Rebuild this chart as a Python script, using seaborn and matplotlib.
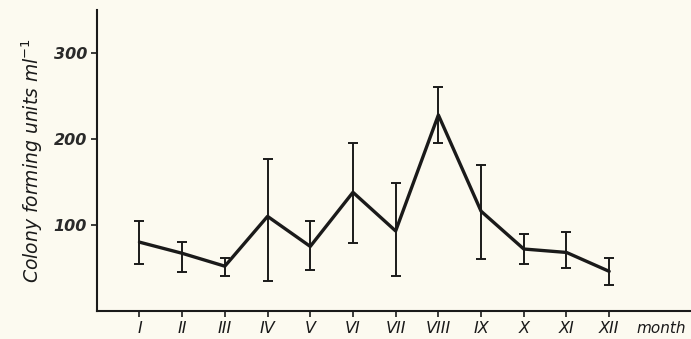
import numpy as np
import pandas as pd
import seaborn as sns
import matplotlib.pyplot as plt

# monthly colony counts
months = ["I", "II", "III", "IV", "V", "VI", "VII", "VIII", "IX", "X", "XI", "XII"]
month_no = [1, 2, 3, 4, 5, 6, 7, 8, 9, 10, 11, 12]
cfu_mean = [80, 67, 52, 110, 75, 138, 93, 228, 116, 72, 68, 46]
cfu_upper = [105, 80, 61, 177, 105, 195, 149, 260, 170, 90, 92, 61]
cfu_lower = [54, 45, 41, 35, 47, 79, 41, 195, 60, 55, 50, 30]
y_ticks = [100, 200, 300]

df = pd.DataFrame({"month": month_no, "cfu": cfu_mean,
                   "upper": cfu_upper, "lower": cfu_lower})

sns.set_style("ticks")
plt.rcParams["font.family"] = ["DejaVu Sans"]
bg = "#fcfaf0"

fig = plt.figure(figsize=(6.91, 3.39), dpi=100, facecolor=bg)
ax = fig.add_axes([0.140, 0.083, 0.859, 0.887], facecolor=bg)

sns.lineplot(data=df, x="month", y="cfu", color="#1a1a1a", linewidth=2.4, ax=ax)
err = [df["cfu"] - df["lower"], df["upper"] - df["cfu"]]
ax.errorbar(df["month"], df["cfu"], yerr=err, fmt="none", ecolor="#1a1a1a",
            elinewidth=1.4, capsize=3.5, capthick=1.4)

ax.set_xlim(0, 13.9)
ax.set_ylim(0, 350)
ax.set_xticks(month_no)
ax.set_xticklabels(months, fontstyle="italic", fontsize=11.5, color="#1a1a1a")
ax.set_yticks(y_ticks)
ax.set_yticklabels([str(v) for v in y_ticks], fontstyle="italic",
                   fontweight="bold", fontsize=11.5, color="#2a2a2a")
ax.tick_params(axis="both", length=4, width=1.2, color="#1a1a1a", pad=3)
ax.text(13.8, -0.035, "month", transform=ax.get_xaxis_transform(),
        ha="right", va="top", fontstyle="italic", fontsize=11, color="#1a1a1a")

ax.set_xlabel("")
ax.set_ylabel("Colony forming units ml$^{-1}$", fontstyle="italic",
              fontsize=13.5, color="#1a1a1a", labelpad=6)

sns.despine(ax=ax)
for side in ["left", "bottom"]:
    ax.spines[side].set_linewidth(1.5)
    ax.spines[side].set_color("#1a1a1a")

fig.savefig("out.png", dpi=100, facecolor=bg)
